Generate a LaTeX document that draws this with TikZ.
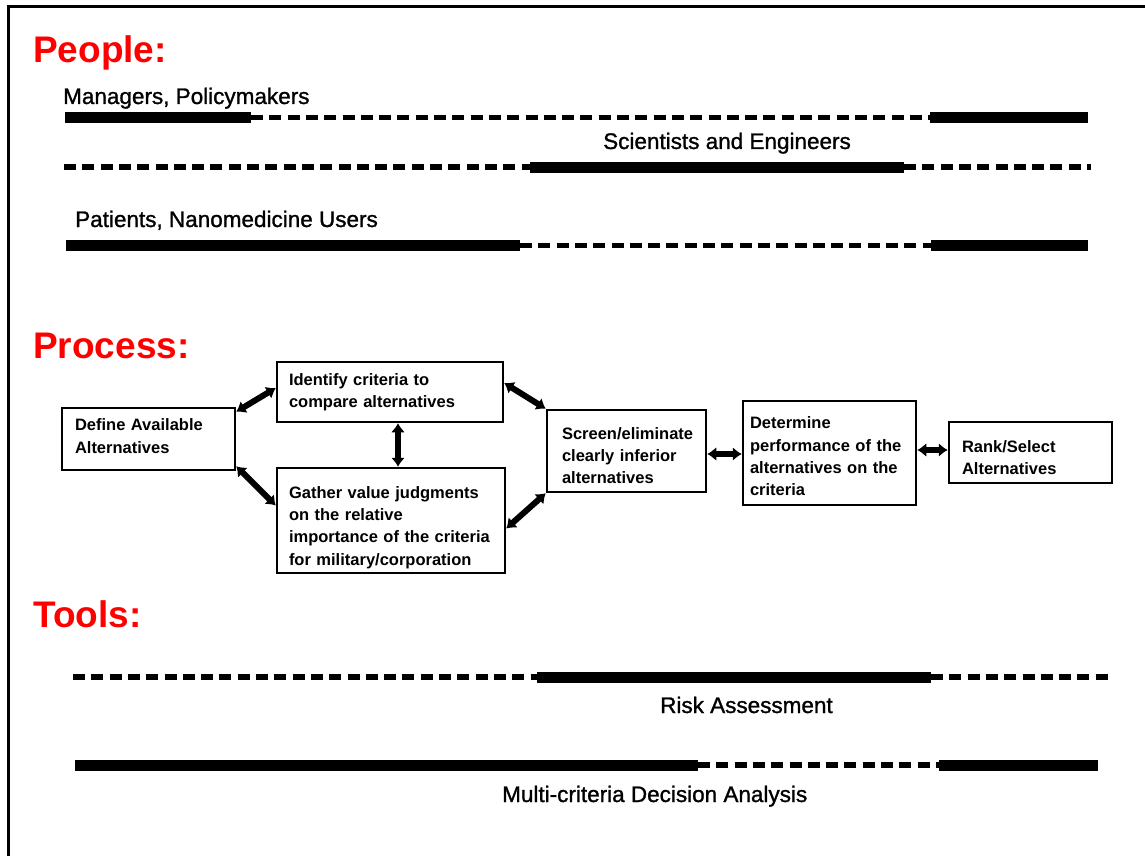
\documentclass[tikz,border=0pt]{standalone}
\usepackage{fontspec}
\setmainfont{Liberation Sans}
\newfontfamily\heavysans[FakeBold=1.2]{Liberation Sans}
\usetikzlibrary{arrows.meta}
\begin{document}
\begin{tikzpicture}[x=1pt,y=-1pt,
 title/.style={anchor=base west,inner sep=0pt,text=red,font=\fontsize{37}{40}\selectfont\bfseries},
 lbl/.style={anchor=base west,inner sep=0pt,font=\heavysans\fontsize{22.5}{26}\selectfont},
 pbox/.style={draw,line width=2.5pt,rectangle,align=left,inner ysep=3pt,
   font=\fontsize{16.5}{22.3}\selectfont\bfseries},
 solidbar/.style={line width=11pt},
 dashbar/.style={line width=5.5pt,dash pattern=on 12pt off 6.3pt},
 dbl/.style={line width=6pt,{Latex[length=9pt,width=14pt]}-{Latex[length=9pt,width=14pt]}}
]
\useasboundingbox (0,0) rectangle (1145,856);
\draw[line width=3pt] (8,856) -- (8,7) -- (1145,7);

% People
\node[title] (tpeople) at (33,63) {People:};
\node[lbl] (lman) at (63,104) {Managers, Policymakers};
\draw[solidbar] (65,117.5) -- (251,117.5);
\draw[dashbar] (251,117.5) -- (930,117.5);
\draw[solidbar] (930,117.5) -- (1088,117.5);

\node[lbl] (lsci) at (603,149) {Scientists and Engineers};
\draw[dashbar] (64,167) -- (530,167);
\draw[solidbar] (530,167) -- (904,167);
\draw[dashbar] (904,167) -- (1091,167);

\node[lbl] (lpat) at (75,227) {Patients, Nanomedicine Users};
\draw[solidbar] (66,245.5) -- (520,245.5);
\draw[dashbar] (520,245.5) -- (931,245.5);
\draw[solidbar] (931,245.5) -- (1088,245.5);

% Process
\node[title] (tprocess) at (33,358) {Process:};
\node[pbox,inner xsep=13pt,text width=147pt,minimum width=173pt,minimum height=62pt] (def) at (148.5,439)
  {Define Available\\Alternatives\rule[-6pt]{0pt}{6pt}};
\node[pbox,inner xsep=12pt,text width=202pt,minimum width=226pt,minimum height=60pt] (ident) at (390,392)
  {Identify criteria to\\compare alternatives};
\node[pbox,inner xsep=12pt,text width=204pt,minimum width=228pt,minimum height=105pt] (gath) at (391,520.5)
  {\rule{0pt}{26pt}Gather value judgments\\on the relative\\importance of the criteria\\for military/corporation};
\node[pbox,inner xsep=15pt,text width=129pt,minimum width=159pt,minimum height=82pt] (scr) at (626.5,451)
  {\rule{0pt}{21pt}Screen/eliminate\\clearly inferior\\alternatives};
\node[pbox,inner xsep=7pt,text width=159pt,minimum width=173pt,minimum height=104pt] (det) at (829.5,453)
  {\rule{0pt}{19pt}Determine\\performance of the\\alternatives on the\\criteria};
\node[pbox,inner xsep=13pt,text width=137pt,minimum width=163pt,minimum height=61pt] (rank) at (1030.5,452.5)
  {\rule{0pt}{22pt}Rank/Select\\Alternatives};

\draw[dbl] ([yshift=-5pt]def.north east) -- ([yshift=4pt]ident.west);
\draw[dbl] ([yshift=5pt]def.south east) -- ([yshift=15pt]gath.west);
\draw[dbl] ([xshift=8pt]ident.south) -- ([xshift=7pt]gath.north);
\draw[dbl] ([yshift=9pt]ident.east) -- (scr.north west);
\draw[dbl] ([yshift=-8pt]gath.east) -- (scr.south west);
\draw[dbl] ([yshift=-3pt]scr.east) -- ([yshift=-1pt]det.west);
\draw[dbl] ([yshift=3pt]det.east) -- ([yshift=2.5pt]rank.west);

% Tools
\node[title] (ttools) at (33,627) {Tools:};
\draw[dashbar] (73,677) -- (537,677);
\draw[solidbar] (537,677) -- (931,677);
\draw[dashbar] (931,677) -- (1109,677);
\node[lbl] (lrisk) at (660,713) {Risk Assessment};

\draw[solidbar] (75,765) -- (698,765);
\draw[dashbar] (698,765) -- (939,765);
\draw[solidbar] (939,765) -- (1098,765);
\node[lbl] (lmcda) at (502,802) {Multi-criteria Decision Analysis};
\end{tikzpicture}
\end{document}
